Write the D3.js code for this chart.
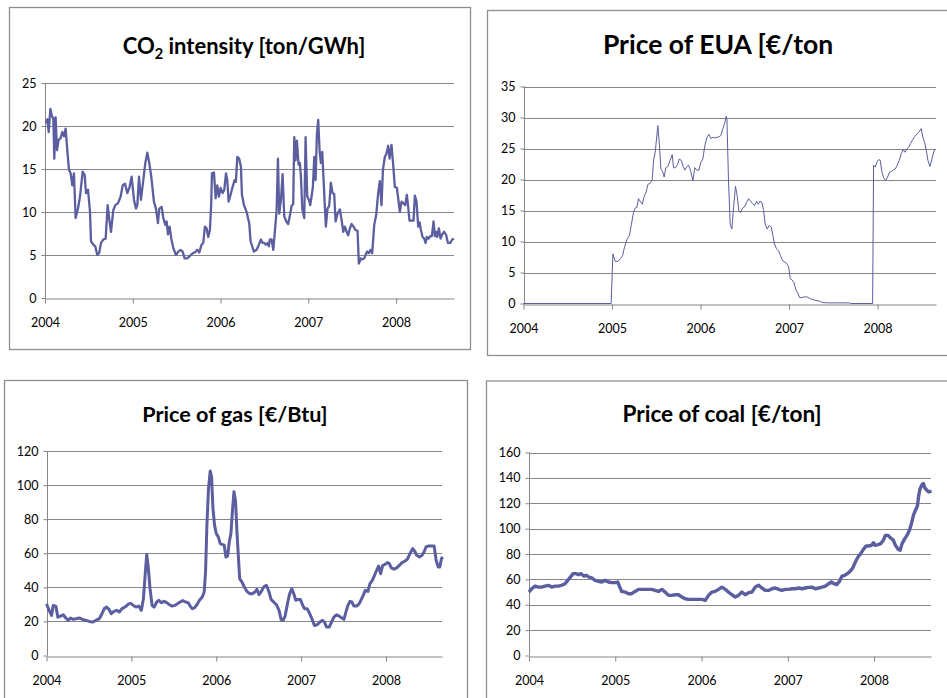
<!DOCTYPE html>
<html>
<head>
<meta charset="utf-8">
<script src="https://cdn.jsdelivr.net/npm/d3@7"></script>
<style>
  body { margin: 0; background: #fff; }
  svg { display: block; font-family: Lato, "Open Sans", sans-serif; }
</style>
</head>
<body>
<svg id="chart" width="947" height="698"></svg>
<script>
// weekly-ish series (dates as decimal years)
var co2Dates = [2004.011, 2004.027, 2004.042, 2004.061, 2004.080, 2004.095, 2004.106, 2004.121, 2004.137, 2004.156,
  2004.178, 2004.197, 2004.216, 2004.235, 2004.254, 2004.273, 2004.292, 2004.311, 2004.330, 2004.349,
  2004.376, 2004.399, 2004.429, 2004.452, 2004.467, 2004.490, 2004.513, 2004.524, 2004.550, 2004.573,
  2004.596, 2004.619, 2004.638, 2004.664, 2004.691, 2004.714, 2004.733, 2004.752, 2004.778, 2004.801,
  2004.831, 2004.862, 2004.885, 2004.911, 2004.938, 2004.961, 2004.987, 2005.014, 2005.036, 2005.052,
  2005.071, 2005.093, 2005.120, 2005.143, 2005.166, 2005.188, 2005.211, 2005.241, 2005.264, 2005.287,
  2005.302, 2005.329, 2005.348, 2005.371, 2005.386, 2005.401, 2005.420, 2005.439, 2005.462, 2005.492,
  2005.519, 2005.545, 2005.568, 2005.591, 2005.621, 2005.651, 2005.682, 2005.708, 2005.735, 2005.758,
  2005.784, 2005.803, 2005.822, 2005.841, 2005.860, 2005.879, 2005.894, 2005.902, 2005.925, 2005.944,
  2005.963, 2005.982, 2006.001, 2006.024, 2006.043, 2006.062, 2006.077, 2006.092, 2006.115, 2006.137,
  2006.160, 2006.175, 2006.191, 2006.213, 2006.232, 2006.244, 2006.267, 2006.297, 2006.327, 2006.342,
  2006.380, 2006.411, 2006.437, 2006.460, 2006.479, 2006.498, 2006.517, 2006.536, 2006.551, 2006.563,
  2006.582, 2006.601, 2006.627, 2006.639, 2006.654, 2006.669, 2006.688, 2006.707, 2006.726, 2006.749,
  2006.771, 2006.794, 2006.809, 2006.828, 2006.840, 2006.855, 2006.870, 2006.889, 2006.904, 2006.916,
  2006.931, 2006.954, 2006.969, 2006.988, 2007.007, 2007.022, 2007.037, 2007.052, 2007.068, 2007.083,
  2007.098, 2007.113, 2007.128, 2007.143, 2007.159, 2007.174, 2007.189, 2007.200, 2007.219, 2007.238,
  2007.257, 2007.276, 2007.295, 2007.311, 2007.333, 2007.360, 2007.379, 2007.398, 2007.417, 2007.436,
  2007.455, 2007.474, 2007.493, 2007.515, 2007.538, 2007.561, 2007.576, 2007.599, 2007.614, 2007.637,
  2007.652, 2007.671, 2007.690, 2007.709, 2007.728, 2007.751, 2007.774, 2007.796, 2007.815, 2007.834,
  2007.850, 2007.872, 2007.891, 2007.910, 2007.926, 2007.948, 2007.967, 2007.986, 2008.009, 2008.024,
  2008.043, 2008.062, 2008.085, 2008.104, 2008.123, 2008.138, 2008.153, 2008.176, 2008.199, 2008.214,
  2008.233, 2008.252, 2008.268, 2008.283, 2008.302, 2008.321, 2008.336, 2008.351, 2008.370, 2008.389,
  2008.408, 2008.427, 2008.442, 2008.457, 2008.469, 2008.488, 2008.507, 2008.526, 2008.545, 2008.568,
  2008.591, 2008.617, 2008.640, 2008.659];
var co2Values = [20.3, 20.8, 19.3, 22.0, 21.1, 20.9, 16.2, 21.0, 17.2, 18.4,
  18.6, 19.3, 18.8, 19.7, 17.2, 14.9, 14.5, 13.1, 14.5, 9.3,
  10.4, 11.8, 14.7, 14.3, 12.2, 12.6, 10.0, 6.6, 6.2, 6.0,
  5.0, 5.3, 6.4, 6.8, 6.9, 10.8, 9.1, 7.7, 10.2, 10.8,
  11.0, 11.8, 13.1, 13.3, 12.2, 12.8, 14.1, 11.4, 10.4, 10.8,
  14.1, 11.4, 13.7, 15.7, 16.9, 15.7, 14.1, 11.2, 10.4, 8.7,
  10.4, 10.6, 9.3, 8.5, 8.9, 7.4, 8.3, 6.9, 5.8, 5.0,
  5.4, 5.6, 5.4, 4.6, 4.6, 4.9, 5.2, 5.3, 5.6, 5.3,
  6.2, 6.4, 8.3, 8.1, 7.1, 7.9, 11.0, 14.5, 14.6, 11.6,
  13.1, 11.8, 12.8, 12.2, 12.6, 14.5, 13.7, 11.2, 12.0, 12.9,
  13.7, 13.5, 16.4, 16.2, 15.3, 12.0, 10.8, 10.0, 8.7, 6.6,
  5.4, 5.6, 6.2, 6.8, 6.4, 6.4, 6.2, 6.4, 6.0, 6.8,
  6.8, 5.6, 8.7, 10.2, 16.2, 9.8, 11.4, 14.4, 9.5, 8.9,
  8.6, 9.8, 10.7, 10.9, 18.7, 16.0, 18.3, 15.5, 15.7, 14.1,
  10.4, 9.3, 18.7, 11.8, 11.4, 10.8, 11.8, 12.9, 16.4, 13.7,
  19.1, 20.7, 17.2, 15.7, 17.0, 13.7, 10.6, 8.3, 10.4, 10.7,
  13.4, 12.2, 12.1, 8.9, 9.8, 10.3, 9.1, 7.7, 8.3, 7.7,
  7.3, 8.1, 8.6, 8.3, 7.9, 7.8, 4.0, 4.6, 4.5, 4.6,
  5.0, 5.4, 5.2, 5.6, 5.2, 8.5, 9.7, 12.2, 13.6, 10.8,
  14.9, 16.4, 16.8, 17.7, 16.2, 17.8, 15.5, 12.9, 12.8, 11.6,
  10.0, 11.2, 11.0, 10.8, 12.0, 10.6, 9.0, 9.0, 9.0, 11.9,
  11.2, 8.3, 8.8, 7.9, 7.1, 6.9, 6.4, 7.1, 6.9, 7.2,
  7.2, 8.9, 7.2, 7.7, 7.1, 8.1, 6.9, 7.4, 7.7, 7.4,
  6.4, 6.4, 6.8, 6.9];

var euaDates = [2004.000, 2004.990, 2005.010, 2005.036, 2005.066, 2005.092, 2005.119, 2005.141, 2005.168, 2005.198,
  2005.217, 2005.243, 2005.262, 2005.281, 2005.299, 2005.318, 2005.341, 2005.364, 2005.386, 2005.405,
  2005.431, 2005.454, 2005.469, 2005.488, 2005.518, 2005.537, 2005.552, 2005.571, 2005.589, 2005.608,
  2005.631, 2005.657, 2005.680, 2005.695, 2005.718, 2005.740, 2005.759, 2005.782, 2005.804, 2005.823,
  2005.846, 2005.864, 2005.887, 2005.913, 2005.936, 2005.959, 2005.981, 2006.004, 2006.026, 2006.049,
  2006.072, 2006.094, 2006.117, 2006.139, 2006.162, 2006.185, 2006.207, 2006.230, 2006.252, 2006.275,
  2006.290, 2006.298, 2006.316, 2006.335, 2006.354, 2006.373, 2006.395, 2006.414, 2006.433, 2006.452,
  2006.475, 2006.497, 2006.520, 2006.543, 2006.565, 2006.588, 2006.610, 2006.633, 2006.652, 2006.671,
  2006.693, 2006.712, 2006.731, 2006.753, 2006.776, 2006.799, 2006.817, 2006.836, 2006.859, 2006.882,
  2006.904, 2006.927, 2006.950, 2006.972, 2006.995, 2007.014, 2007.033, 2007.055, 2007.078, 2007.100,
  2007.123, 2007.153, 2007.183, 2007.213, 2007.243, 2007.273, 2007.303, 2007.341, 2007.379, 2007.446,
  2007.522, 2007.597, 2007.672, 2007.710, 2007.944, 2007.955, 2007.974, 2007.993, 2008.011, 2008.030,
  2008.049, 2008.068, 2008.090, 2008.113, 2008.136, 2008.158, 2008.181, 2008.200, 2008.222, 2008.245,
  2008.268, 2008.290, 2008.309, 2008.328, 2008.350, 2008.373, 2008.396, 2008.418, 2008.441, 2008.463,
  2008.493, 2008.512, 2008.531, 2008.550, 2008.569, 2008.591, 2008.614, 2008.637, 2008.659];
var euaValues = [0, 0, 8.0, 6.8, 6.8, 7.2, 7.7, 9.1, 10.3, 11.0,
  12.6, 14.7, 15.4, 15.5, 16.9, 16.5, 16.0, 17.3, 18.0, 19.2,
  19.4, 19.9, 23.1, 24.4, 28.7, 25.2, 21.7, 21.3, 20.4, 21.9,
  22.1, 23.1, 24.0, 21.9, 21.9, 22.4, 23.3, 23.1, 22.1, 21.5,
  22.1, 22.3, 21.5, 19.8, 21.9, 21.5, 21.5, 22.8, 23.3, 25.5,
  26.8, 27.3, 26.6, 26.8, 26.7, 26.8, 26.9, 27.1, 28.2, 29.2,
  30.2, 29.8, 19.8, 12.8, 12.0, 15.5, 18.9, 17.4, 14.9, 14.7,
  15.4, 15.6, 16.3, 16.9, 16.5, 16.1, 15.8, 16.5, 16.0, 16.5,
  16.3, 15.0, 12.8, 12.0, 12.6, 12.3, 11.0, 9.6, 8.8, 8.5,
  7.7, 6.9, 6.7, 6.5, 5.9, 4.0, 3.8, 3.4, 2.2, 1.6,
  0.9, 1.0, 1.1, 1.0, 0.75, 0.6, 0.5, 0.4, 0.15, 0.1,
  0.1, 0.1, 0.1, 0, 0, 22.3, 22.0, 22.8, 23.2, 23.1,
  21.2, 20.3, 19.8, 20.4, 21.2, 21.3, 21.6, 21.7, 22.3, 23.1,
  24.2, 24.8, 24.4, 24.9, 25.2, 25.8, 26.4, 26.9, 27.3, 27.6,
  28.2, 26.8, 26.0, 24.7, 23.1, 22.1, 23.3, 24.6, 24.9];

var gasDates = [2004.000, 2004.031, 2004.059, 2004.079, 2004.110, 2004.134, 2004.165, 2004.197, 2004.228, 2004.256,
  2004.283, 2004.315, 2004.346, 2004.386, 2004.425, 2004.465, 2004.504, 2004.543, 2004.583, 2004.622,
  2004.654, 2004.681, 2004.709, 2004.736, 2004.764, 2004.795, 2004.827, 2004.858, 2004.890, 2004.929,
  2004.965, 2004.992, 2005.024, 2005.055, 2005.087, 2005.118, 2005.142, 2005.165, 2005.181, 2005.197,
  2005.220, 2005.244, 2005.268, 2005.299, 2005.323, 2005.354, 2005.386, 2005.417, 2005.449, 2005.480,
  2005.512, 2005.543, 2005.575, 2005.606, 2005.638, 2005.669, 2005.693, 2005.717, 2005.740, 2005.772,
  2005.803, 2005.835, 2005.858, 2005.874, 2005.890, 2005.909, 2005.929, 2005.945, 2005.961, 2005.980,
  2006.000, 2006.024, 2006.047, 2006.075, 2006.094, 2006.114, 2006.134, 2006.154, 2006.173, 2006.193,
  2006.209, 2006.228, 2006.244, 2006.260, 2006.276, 2006.303, 2006.331, 2006.362, 2006.394, 2006.425,
  2006.457, 2006.480, 2006.504, 2006.528, 2006.559, 2006.591, 2006.622, 2006.646, 2006.677, 2006.709,
  2006.740, 2006.764, 2006.787, 2006.811, 2006.843, 2006.866, 2006.890, 2006.913, 2006.937, 2006.961,
  2006.992, 2007.016, 2007.039, 2007.071, 2007.102, 2007.130, 2007.157, 2007.189, 2007.220, 2007.252,
  2007.276, 2007.299, 2007.331, 2007.354, 2007.386, 2007.417, 2007.449, 2007.480, 2007.504, 2007.528,
  2007.551, 2007.575, 2007.598, 2007.622, 2007.654, 2007.685, 2007.709, 2007.732, 2007.756, 2007.787,
  2007.811, 2007.839, 2007.866, 2007.890, 2007.913, 2007.937, 2007.961, 2007.984, 2008.016, 2008.039,
  2008.063, 2008.094, 2008.126, 2008.157, 2008.189, 2008.220, 2008.252, 2008.283, 2008.315, 2008.339,
  2008.362, 2008.394, 2008.425, 2008.449, 2008.472, 2008.504, 2008.535, 2008.567, 2008.591, 2008.614,
  2008.634, 2008.654, 2008.669];
var gasValues = [30.4, 26.5, 23.5, 29.4, 29.0, 22.5, 23.1, 23.9, 22.0, 20.6,
  22.0, 21.2, 21.6, 22.0, 21.2, 20.6, 20.0, 19.6, 20.6, 21.6,
  24.5, 27.5, 28.4, 27.1, 24.5, 25.9, 26.5, 25.5, 27.5, 28.6,
  30.2, 30.6, 29.4, 28.4, 29.0, 26.5, 33.3, 49.0, 59.2, 52.9,
  39.2, 29.4, 28.4, 31.4, 32.4, 31.0, 31.8, 31.0, 29.8, 29.0,
  29.4, 30.4, 31.4, 32.2, 31.4, 31.0, 29.0, 27.5, 27.8, 29.8,
  32.4, 34.3, 37.3, 49.0, 76.5, 98.0, 108.2, 104.9, 86.3, 76.5,
  71.6, 69.6, 65.7, 65.1, 64.7, 57.8, 58.4, 66.7, 71.6, 86.3,
  96.1, 90.2, 72.5, 58.8, 45.1, 43.1, 40.2, 37.6, 36.3, 36.3,
  37.3, 38.8, 35.7, 37.3, 40.2, 41.2, 37.3, 32.9, 31.4, 29.8,
  26.5, 21.2, 20.6, 23.1, 31.4, 36.3, 39.2, 36.3, 32.4, 32.9,
  32.9, 29.8, 27.5, 27.5, 24.5, 21.2, 17.6, 18.0, 19.6, 20.6,
  19.6, 16.7, 16.7, 19.2, 22.5, 23.9, 23.1, 22.0, 21.2, 25.5,
  29.4, 31.8, 31.4, 29.0, 29.0, 30.4, 32.9, 35.3, 38.2, 37.6,
  42.2, 44.1, 47.1, 50.0, 52.5, 48.0, 52.9, 53.3, 54.5, 53.9,
  51.4, 50.6, 51.4, 52.9, 54.5, 55.3, 56.5, 59.8, 62.7, 61.2,
  58.8, 57.8, 58.8, 60.8, 63.7, 64.3, 64.3, 64.3, 55.9, 52.0,
  52.0, 56.9, 57.8];

var coalDates = [2004.000, 2004.031, 2004.070, 2004.108, 2004.147, 2004.186, 2004.224, 2004.263, 2004.302, 2004.340,
  2004.379, 2004.418, 2004.449, 2004.480, 2004.511, 2004.542, 2004.573, 2004.604, 2004.634, 2004.665,
  2004.696, 2004.727, 2004.766, 2004.805, 2004.843, 2004.882, 2004.921, 2004.959, 2004.998, 2005.029,
  2005.052, 2005.075, 2005.114, 2005.153, 2005.191, 2005.230, 2005.269, 2005.308, 2005.346, 2005.385,
  2005.424, 2005.462, 2005.501, 2005.540, 2005.578, 2005.617, 2005.656, 2005.694, 2005.733, 2005.772,
  2005.810, 2005.849, 2005.888, 2005.927, 2005.965, 2006.004, 2006.043, 2006.081, 2006.120, 2006.159,
  2006.197, 2006.236, 2006.275, 2006.313, 2006.352, 2006.391, 2006.429, 2006.468, 2006.507, 2006.545,
  2006.584, 2006.623, 2006.662, 2006.700, 2006.739, 2006.778, 2006.816, 2006.855, 2006.894, 2006.932,
  2006.971, 2007.010, 2007.049, 2007.087, 2007.126, 2007.165, 2007.203, 2007.242, 2007.281, 2007.319,
  2007.358, 2007.397, 2007.435, 2007.474, 2007.505, 2007.536, 2007.567, 2007.598, 2007.629, 2007.660,
  2007.691, 2007.721, 2007.752, 2007.783, 2007.814, 2007.845, 2007.876, 2007.907, 2007.938, 2007.969,
  2007.992, 2008.015, 2008.046, 2008.077, 2008.108, 2008.131, 2008.162, 2008.193, 2008.224, 2008.248,
  2008.279, 2008.302, 2008.325, 2008.356, 2008.387, 2008.410, 2008.433, 2008.456, 2008.480, 2008.503,
  2008.518, 2008.534, 2008.557, 2008.572, 2008.588, 2008.611, 2008.634, 2008.666];
var coalValues = [50.0, 52.6, 54.7, 53.9, 53.9, 54.7, 55.3, 53.9, 54.7, 54.7,
  55.3, 56.6, 59.2, 61.8, 64.5, 64.5, 63.7, 64.5, 62.6, 63.2,
  61.8, 61.1, 59.2, 58.4, 57.9, 59.2, 57.9, 57.4, 57.4, 57.9,
  53.9, 50.5, 50.0, 48.7, 48.7, 50.5, 52.1, 52.1, 52.1, 52.1,
  52.1, 51.3, 50.5, 52.1, 50.0, 47.4, 47.4, 47.9, 47.9, 46.1,
  44.7, 44.2, 44.2, 44.2, 44.2, 44.2, 43.4, 47.4, 50.0, 50.5,
  52.1, 53.9, 52.1, 50.0, 47.9, 46.1, 47.4, 50.0, 47.9, 49.5,
  50.0, 53.9, 55.3, 53.2, 51.3, 51.3, 52.6, 53.2, 52.1, 51.3,
  52.1, 52.1, 52.6, 52.6, 53.2, 52.6, 53.2, 53.7, 53.9, 52.6,
  53.2, 53.9, 54.7, 56.6, 57.9, 56.6, 55.8, 58.4, 62.6, 63.2,
  64.5, 66.3, 68.9, 73.7, 77.6, 80.3, 83.7, 86.3, 86.3, 86.8,
  88.9, 86.8, 87.4, 88.2, 90.8, 94.7, 94.7, 92.6, 90.8, 86.8,
  83.7, 82.9, 88.2, 92.1, 95.3, 98.7, 103.9, 110.5, 114.5, 117.9,
  126.3, 131.6, 134.7, 135.5, 132.1, 130.3, 128.9, 129.5];

var yearTicks = [2004, 2005, 2006, 2007, 2008];
var co2Ticks = [0, 5, 10, 15, 20, 25];
var euaTicks = [0, 5, 10, 15, 20, 25, 30, 35];
var gasTicks = [0, 20, 40, 60, 80, 100, 120];
var coalTicks = [0, 20, 40, 60, 80, 100, 120, 140, 160];
var lastDate = 2008.66;

var lineColor = '#5b5e9f';
var gridColor = '#868686';
var frameColor = '#8f8f8f';

var panels = [
  {title: 'co2', dates: co2Dates, values: co2Values, ticks: co2Ticks,
   frame: [9.5, 7.5, 470.5, 349.5], left: 45, right: 454, top: 83, bottom: 298,
   titleX: 244, titleY: 54, titleSize: 22, stroke: 2.3},
  {title: 'Price of EUA [€/ton', dates: euaDates, values: euaValues, ticks: euaTicks,
   frame: [487.5, 10.5, 952, 355.5], left: 523.5, right: 936, top: 86.5, bottom: 303.5,
   titleX: 718, titleY: 54, titleSize: 26.5, stroke: 1},
  {title: 'Price of gas [€/Btu]', dates: gasDates, values: gasValues, ticks: gasTicks,
   frame: [4.5, 380.5, 467.5, 710], left: 46.5, right: 442, top: 451, bottom: 655.5,
   titleX: 235, titleY: 422, titleSize: 21.6, stroke: 3},
  {title: 'Price of coal [€/ton]', dates: coalDates, values: coalValues, ticks: coalTicks,
   frame: [486.5, 381, 952, 710], left: 529, right: 931, top: 452.5, bottom: 655.5,
   titleX: 722, titleY: 422, titleSize: 22.6, stroke: 3.4}
];

var svg = d3.select('#chart');

panels.forEach(function(p) {
  var g = svg.append('g');

  g.append('rect')
    .attr('x', p.frame[0])
    .attr('y', p.frame[1])
    .attr('width', p.frame[2] - p.frame[0])
    .attr('height', p.frame[3] - p.frame[1])
    .attr('fill', '#fff')
    .attr('stroke', frameColor)
    .attr('stroke-width', 1.3);

  var x = d3.scaleLinear().domain([2004, lastDate]).range([p.left, p.right]);
  var y = d3.scaleLinear().domain([0, d3.max(p.ticks)]).range([p.bottom, p.top]);

  // title
  var t = g.append('text')
    .attr('x', p.titleX)
    .attr('y', p.titleY)
    .attr('text-anchor', 'middle')
    .attr('font-size', p.titleSize)
    .attr('font-weight', 'bold')
    .attr('fill', '#000');
  if (p.title === 'co2') {
    t.append('tspan').text('CO');
    t.append('tspan').attr('font-size', 14.5).attr('dy', 5).text('2');
    t.append('tspan').attr('dy', -5).text(' intensity [ton/GWh]');
  } else {
    t.text(p.title);
  }

  // gridlines
  g.append('g')
    .selectAll('line')
    .data(p.ticks.filter(function(d) { return d > 0; }))
    .enter()
    .append('line')
    .attr('x1', p.left)
    .attr('x2', p.right)
    .attr('y1', function(d) { return Math.round(y(d)) + 0.5; })
    .attr('y2', function(d) { return Math.round(y(d)) + 0.5; })
    .attr('stroke', gridColor)
    .attr('stroke-width', 1);

  // y axis
  var yAxis = g.append('g')
    .attr('transform', 'translate(' + (Math.round(p.left) + 0.5) + ',0)')
    .call(d3.axisLeft(y).tickValues(p.ticks).tickSize(4).tickPadding(5).tickSizeOuter(0));
  yAxis.select('.domain').attr('stroke', gridColor).attr('d', 'M0,' + y(d3.max(p.ticks)) + 'V' + p.bottom);
  yAxis.selectAll('.tick line').attr('stroke', gridColor);
  yAxis.selectAll('.tick text')
    .attr('font-family', 'Lato, sans-serif')
    .attr('font-size', 12.5)
    .attr('fill', '#000');

  // x axis
  var xAxis = g.append('g')
    .attr('transform', 'translate(0,' + (Math.round(p.bottom) + 0.5) + ')')
    .call(d3.axisBottom(x).tickValues(yearTicks).tickFormat(d3.format('d')).tickSize(5).tickPadding(15).tickSizeOuter(0));
  xAxis.select('.domain').attr('stroke', gridColor);
  xAxis.selectAll('.tick line').attr('stroke', gridColor);
  xAxis.selectAll('.tick text')
    .attr('font-family', 'Lato, sans-serif')
    .attr('font-size', 12.5)
    .attr('fill', '#000');

  // series
  var line = d3.line()
    .x(function(d, i) { return x(p.dates[i]); })
    .y(function(d) { return y(d); });

  g.append('path')
    .datum(p.values)
    .attr('d', line)
    .attr('fill', 'none')
    .attr('stroke', lineColor)
    .attr('stroke-width', p.stroke)
    .attr('stroke-linejoin', 'round');
});
</script>
</body>
</html>
